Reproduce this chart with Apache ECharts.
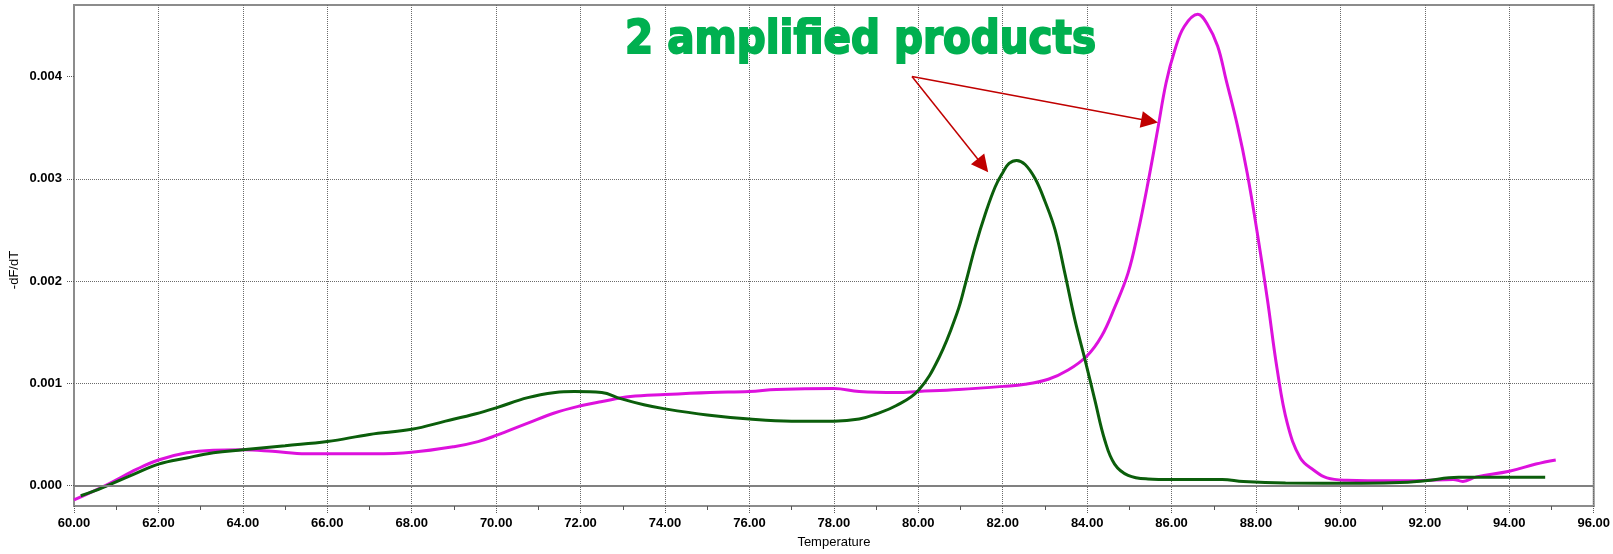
<!DOCTYPE html>
<html>
<head>
<meta charset="utf-8">
<script src="https://cdn.jsdelivr.net/npm/echarts@6/dist/echarts.min.js"></script>
<style>
  html, body { margin: 0; padding: 0; background: #ffffff; }
  #chart { width: 1613px; height: 554px; }
</style>
</head>
<body>
<div id="chart"></div>
<script>
// ---- data ----
const greenTemps = [60.16, 60.5, 60.79, 61.41, 62.0, 62.67, 63.3, 64.0, 65.0, 66.0, 67.0, 68.0, 68.8, 69.5, 70.0, 70.75, 71.4, 71.85, 72.5, 72.95, 73.5, 74.0, 75.0, 76.0, 77.0, 78.0, 78.6, 79.0, 79.47, 80.0, 80.49, 80.92, 81.12, 81.35, 81.59, 81.82, 82.0, 82.15, 82.33, 82.53, 82.77, 83.0, 83.24, 83.47, 83.71, 83.95, 84.18, 84.42, 84.65, 84.97, 85.44, 86.0, 87.2, 87.7, 88.7, 90.5, 91.6, 92.0, 92.8, 94.85];
const greenValues = [-0.0001, -0.00005, 0.0, 0.00011, 0.00021, 0.00027, 0.00032, 0.00035, 0.00039, 0.00043, 0.0005, 0.00055, 0.00063, 0.0007, 0.00076, 0.00086, 0.00091, 0.00092, 0.00091, 0.00085, 0.00079, 0.00075, 0.00069, 0.00065, 0.00063, 0.00063, 0.00065, 0.0007, 0.00078, 0.00093, 0.00125, 0.00169, 0.00198, 0.00234, 0.00266, 0.00292, 0.00306, 0.00315, 0.00318, 0.00314, 0.00300, 0.00278, 0.0025, 0.00208, 0.00162, 0.00123, 0.00084, 0.00044, 0.00021, 0.0001, 0.000065, 0.00006, 0.00006, 0.00004, 0.000026, 0.000023, 0.000032, 0.000046, 0.00008, 0.00008];

const magentaTemps = [60.0, 60.79, 61.49, 62.0, 62.67, 63.3, 64.0, 64.7, 65.5, 67.1, 68.0, 69.0, 69.57, 70.0, 70.75, 71.38, 72.0, 72.48, 73.18, 74.0, 75.07, 76.0, 76.64, 78.0, 78.6, 79.5, 80.0, 80.96, 82.0, 82.53, 83.08, 83.55, 84.0, 84.34, 84.65, 84.97, 85.2, 85.44, 85.67, 85.87, 86.07, 86.3, 86.62, 86.85, 87.09, 87.29, 87.56, 87.79, 88.03, 88.27, 88.5, 88.74, 89.05, 89.37, 89.68, 90.15, 91.25, 91.96, 92.67, 92.9, 93.22, 94.0, 94.63, 95.1];
const magentaValues = [-0.00014, 0.00001, 0.00016, 0.00025, 0.00032, 0.000345, 0.00035, 0.000335, 0.00031, 0.00031, 0.000325, 0.00038, 0.00043, 0.00049, 0.00061, 0.00071, 0.00078, 0.00082, 0.00087, 0.00089, 0.00091, 0.00092, 0.00094, 0.00095, 0.00092, 0.00091, 0.00092, 0.00094, 0.00097, 0.00099, 0.00104, 0.00113, 0.00127, 0.00146, 0.00174, 0.00208, 0.00247, 0.00296, 0.00348, 0.00394, 0.00425, 0.00449, 0.00461, 0.00451, 0.00430, 0.00397, 0.00352, 0.00306, 0.00247, 0.00182, 0.00114, 0.00061, 0.00027, 0.00015, 0.000075, 0.000052, 0.000046, 0.00005, 0.00006, 0.00004, 0.000085, 0.00014, 0.00021, 0.00025];

const yTickValues = [0, 0.001, 0.002, 0.003, 0.004];
const annotationText = '2 amplified products';
const arrowStart = [79.85, 0.004];
const arrowTips = [[81.53, 0.00313], [85.48, 0.003565]];
const xAxisName = 'Temperature';
const yAxisName = '-dF/dT';

// ---- chart ----
const zip = (xs, ys) => xs.map((x, i) => [x, ys[i]]);
const chart = echarts.init(document.getElementById('chart'), null, { renderer: 'canvas' });

const labelFont = { fontFamily: '"Liberation Sans", Arial, sans-serif', fontSize: 13, fontWeight: 'bold', color: '#000' };

chart.setOption({
  animation: false,
  backgroundColor: '#ffffff',
  grid: {
    left: 74, right: 12, top: 5, bottom: 47,
    show: true, borderColor: '#8c8c8c', borderWidth: 2, backgroundColor: 'transparent'
  },
  xAxis: {
    type: 'value', min: 60, max: 96, interval: 2,
    axisLine: { show: true, onZero: false, lineStyle: { color: '#8c8c8c', width: 2 } },
    axisTick: { show: true, length: 7, lineStyle: { color: '#555', type: 'dotted', width: 1 } },
    minorTick: { show: true, splitNumber: 2, length: 4, lineStyle: { color: '#555', width: 1 } },
    axisLabel: Object.assign({ margin: 11, formatter: v => v.toFixed(2) }, labelFont),
    splitLine: { show: true, lineStyle: { color: '#6a6a6a', type: 'dotted', width: 1 } },
    name: xAxisName, nameLocation: 'middle', nameGap: 30,
    nameTextStyle: { fontFamily: '"Liberation Sans", Arial, sans-serif', fontSize: 13, color: '#000' }
  },
  yAxis: {
    type: 'value', min: -0.0002, max: 0.0047, splitNumber: 5,
    axisLine: { show: true, onZero: false, lineStyle: { color: '#8c8c8c', width: 2 } },
    axisTick: { show: true, length: 7, customValues: yTickValues, lineStyle: { color: '#555', type: 'dotted', width: 1 } },
    axisLabel: Object.assign({ margin: 12, customValues: yTickValues, formatter: v => v.toFixed(3) }, labelFont),
    splitLine: { show: true, showMinLine: false, showMaxLine: false, lineStyle: { color: '#6a6a6a', type: 'dotted', width: 1 } }
  },
  graphic: [
    {
      type: 'text', x: 14, y: 270, rotation: Math.PI / 2,
      style: { text: yAxisName, font: '13px "Liberation Sans", Arial, sans-serif', fill: '#000', align: 'center', verticalAlign: 'middle' }
    },
    {
      type: 'text', x: 625, y: 41, scaleX: 0.88, z: 10,
      style: {
        text: annotationText, font: 'bold 46px "Comic Sans MS", "DejaVu Sans", sans-serif',
        fill: '#00B050', stroke: '#00B050', lineWidth: 2, lineJoin: 'round',
        align: 'left', verticalAlign: 'middle'
      }
    }
  ],
  series: [
    {
      name: 'zero', type: 'line', data: [], z: 1, silent: true,
      markLine: {
        silent: true, symbol: 'none', label: { show: false }, animation: false,
        lineStyle: { color: '#808080', width: 2, type: 'solid' },
        data: [{ yAxis: 0 }]
      }
    },
    {
      name: 'product 2', type: 'line', z: 3, data: zip(magentaTemps, magentaValues),
      smooth: 0.4, showSymbol: false, lineStyle: { color: '#DD11DD', width: 3 }
    },
    {
      name: 'product 1', type: 'line', z: 4, data: zip(greenTemps, greenValues),
      smooth: 0.4, showSymbol: false, lineStyle: { color: '#0B5E0B', width: 3 }
    },
    {
      name: 'arrows', type: 'line', data: [], z: 6, silent: true,
      markLine: {
        silent: true, animation: false, label: { show: false },
        symbol: ['none', 'triangle'], symbolSize: 17,
        lineStyle: { color: '#C00000', width: 1.5, type: 'solid' },
        itemStyle: { color: '#C00000' },
        data: arrowTips.map(t => [{ coord: arrowStart }, { coord: t }])
      }
    }
  ]
});
</script>
</body>
</html>
